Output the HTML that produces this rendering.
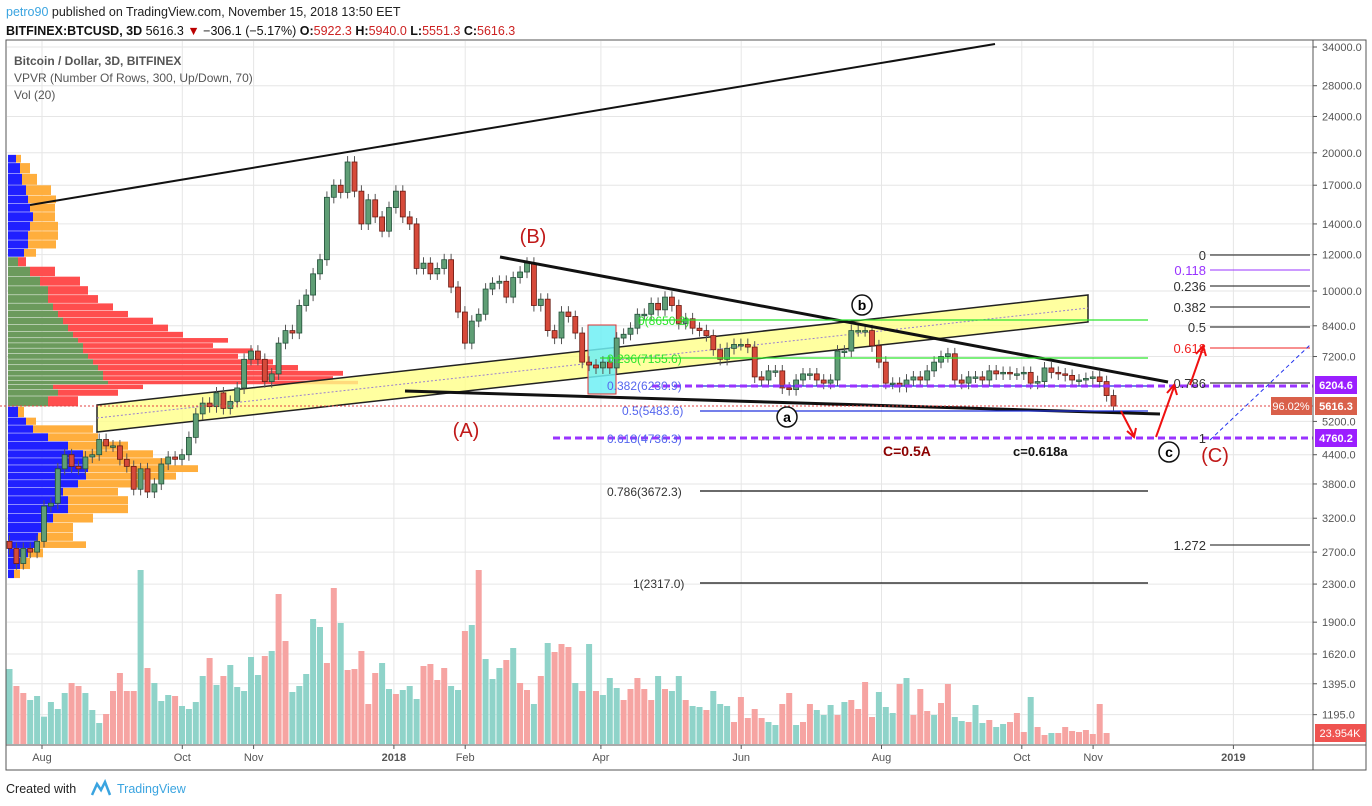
<!DOCTYPE html>
<html><head><meta charset="utf-8"><style>
html,body{margin:0;padding:0;background:#fff;}
svg{display:block;font-family:"Liberation Sans",sans-serif;}
</style></head><body>
<svg id="c" width="1372" height="806" viewBox="0 0 1372 806" xmlns="http://www.w3.org/2000/svg">
<text x="6" y="16" font-size="12.5" fill="#222"><tspan fill="#3aa4e0">petro90</tspan> published on TradingView.com, November 15, 2018 13:50 EET</text>
<text x="6" y="35" font-size="12.5" fill="#111"><tspan font-weight="bold">BITFINEX:BTCUSD, 3D</tspan> 5616.3 <tspan fill="#b00">▼</tspan> −306.1 (−5.17%) <tspan font-weight="bold">O:</tspan><tspan fill="#c22">5922.3</tspan> <tspan font-weight="bold">H:</tspan><tspan fill="#c22">5940.0</tspan> <tspan font-weight="bold">L:</tspan><tspan fill="#c22">5551.3</tspan> <tspan font-weight="bold">C:</tspan><tspan fill="#c22">5616.3</tspan></text>
<g id="grid"></g>
<g id="vpvr"></g>
<g id="vol"></g>
<g id="draw">
  <polygon points="97,405 1088,295 1088,322 97,432" fill="#ffff88" fill-opacity="0.8" stroke="#222" stroke-width="1.5"/>
  <line x1="97" y1="418" x2="1088" y2="308" stroke="#9a7fd0" stroke-width="1" stroke-dasharray="2,2"/>
  <line x1="30" y1="205" x2="995" y2="44" stroke="#111" stroke-width="2"/>
  <rect x="588" y="325" width="28" height="69" fill="#6ff0f5" fill-opacity="0.85" stroke="#d33" stroke-width="1"/>
</g>
<g id="candles"></g>
<g id="draw2">
  <line x1="500" y1="257" x2="1168" y2="382" stroke="#111" stroke-width="3"/>
  <line x1="405" y1="391" x2="1160" y2="414" stroke="#111" stroke-width="3"/>
  <line x1="640" y1="320" x2="1148" y2="320" stroke="#2de52d" stroke-width="1.2"/>
  <line x1="600" y1="358" x2="1148" y2="358" stroke="#2de52d" stroke-width="1.2"/>
  <line x1="700" y1="386" x2="1148" y2="386" stroke="#2233dd" stroke-width="1.2"/>
  <line x1="652" y1="386" x2="1313" y2="386" stroke="#9933ff" stroke-width="3" stroke-dasharray="7,4"/>
  <line x1="700" y1="411" x2="1148" y2="411" stroke="#2233dd" stroke-width="1.2"/>
  <line x1="553" y1="438" x2="1313" y2="438" stroke="#9933ff" stroke-width="3" stroke-dasharray="7,4"/>
  <line x1="700" y1="491" x2="1148" y2="491" stroke="#111" stroke-width="1.2"/>
  <line x1="700" y1="583" x2="1148" y2="583" stroke="#111" stroke-width="1.2"/>
  <line x1="0" y1="406" x2="1313" y2="406" stroke="#e04040" stroke-width="1" stroke-dasharray="2,2"/>
  <g font-size="12">
    <text x="638" y="325" fill="#2de52d">0(8650.2)</text>
    <text x="607" y="363" fill="#2de52d">0.236(7155.6)</text>
    <text x="607" y="390" fill="#5566ee">0.382(6230.9)</text>
    <text x="622" y="415" fill="#5566ee">0.5(5483.6)</text>
    <text x="607" y="443" fill="#5566ee">0.618(4736.3)</text>
    <text x="607" y="496" fill="#333">0.786(3672.3)</text>
    <text x="633" y="588" fill="#333">1(2317.0)</text>
  </g>
  <g font-size="13" text-anchor="end">
    <line x1="1210" y1="255" x2="1310" y2="255" stroke="#111"/><text x="1206" y="260" fill="#333">0</text>
    <line x1="1210" y1="270" x2="1310" y2="270" stroke="#9933ff"/><text x="1206" y="275" fill="#9933ff">0.118</text>
    <line x1="1210" y1="286" x2="1310" y2="286" stroke="#111"/><text x="1206" y="291" fill="#333">0.236</text>
    <line x1="1210" y1="307" x2="1310" y2="307" stroke="#111"/><text x="1206" y="312" fill="#333">0.382</text>
    <line x1="1210" y1="327" x2="1310" y2="327" stroke="#111"/><text x="1206" y="332" fill="#333">0.5</text>
    <line x1="1210" y1="348" x2="1310" y2="348" stroke="#f02020"/><text x="1206" y="353" fill="#f02020">0.618</text>
    <line x1="1210" y1="383" x2="1310" y2="383" stroke="#111"/><text x="1206" y="388" fill="#333">0.786</text>
    <text x="1206" y="443" fill="#333">1</text>
    <line x1="1210" y1="545" x2="1310" y2="545" stroke="#111"/><text x="1206" y="550" fill="#333">1.272</text>
  </g>
  <line x1="1210" y1="440" x2="1310" y2="345" stroke="#2233ee" stroke-width="1" stroke-dasharray="4,3"/>
  <g stroke="#f01010" stroke-width="2" fill="none">
    <path d="M1121,411 L1134,436 M1127,431 L1134,437 L1136,428"/>
    <path d="M1156,437 L1174,387 M1167,393 L1174,385 L1177,395"/>
    <path d="M1190,385 L1203,348 M1196,354 L1203,346 L1206,356"/>
  </g>
  <text x="533" y="243" font-size="20" fill="#c01818" text-anchor="middle">(B)</text>
  <text x="466" y="437" font-size="20" fill="#c01818" text-anchor="middle">(A)</text>
  <text x="1215" y="462" font-size="20" fill="#c01818" text-anchor="middle">(C)</text>
  <g><circle cx="862" cy="305" r="10" fill="#fff" stroke="#111" stroke-width="1.5"/><text x="862" y="310" font-size="14" font-weight="bold" text-anchor="middle">b</text></g>
  <g><circle cx="787" cy="417" r="10" fill="#fff" stroke="#111" stroke-width="1.5"/><text x="787" y="422" font-size="14" font-weight="bold" text-anchor="middle">a</text></g>
  <g><circle cx="1169" cy="452" r="10" fill="#fff" stroke="#111" stroke-width="1.5"/><text x="1169" y="457" font-size="14" font-weight="bold" text-anchor="middle">c</text></g>
  <text x="883" y="456" font-size="14" font-weight="bold" fill="#8b0000">C=0.5A</text>
  <text x="1013" y="456" font-size="13" font-weight="bold" fill="#111">c=0.618a</text>
</g>
<g font-size="12" fill="#555">
  <text x="14" y="65" font-weight="bold">Bitcoin / Dollar, 3D, BITFINEX</text>
  <text x="14" y="82">VPVR (Number Of Rows, 300, Up/Down, 70)</text>
  <text x="14" y="99">Vol (20)</text>
</g>
<g id="axes"></g>
<g font-size="11" font-weight="bold" fill="#fff">
  <rect x="1315" y="376" width="42" height="18" fill="#9b1fff"/><text x="1336" y="389" text-anchor="middle">6204.6</text>
  <rect x="1271" y="397" width="41" height="18" fill="#d9604a"/><text x="1291" y="410" text-anchor="middle" font-weight="normal">96.02%</text>
  <rect x="1315" y="397" width="42" height="18" fill="#d9604a"/><text x="1336" y="410" text-anchor="middle">5616.3</text>
  <rect x="1315" y="429" width="42" height="18" fill="#9b1fff"/><text x="1336" y="442" text-anchor="middle">4760.2</text>
  <rect x="1315" y="724" width="51" height="18" fill="#ef5350"/><text x="1340" y="737" text-anchor="middle" font-weight="normal">23.954K</text>
</g>
<text x="6" y="793" font-size="12.5" fill="#222">Created with</text>
<path d="M92,795 L97,784 L101,790 L105,782 L110,795" fill="none" stroke="#3aa4e0" stroke-width="2.5"/>
<text x="117" y="793" font-size="12.5" fill="#3aa4e0">TradingView</text>
</svg>
<script>
const closes=[2750,2550,2750,2700,2850,3400,3450,4100,4400,4150,4100,4350,4400,4750,4600,4600,4300,4150,3700,4100,3650,3800,4200,4350,4300,4400,4800,5400,5700,5600,6000,5550,5750,6150,7100,7400,7100,6350,6600,7700,8200,8100,9300,9800,10900,11700,16000,17000,16400,19100,16500,14000,15800,14500,13500,15200,16500,14500,14000,11200,11500,10900,11200,11700,10200,9000,7700,8600,8900,10100,10400,10500,9700,10700,11000,11500,9300,9600,8200,7900,9000,8800,8100,7000,6900,6800,7000,6800,7900,8050,8300,8900,8900,9400,9100,9700,9300,8500,8700,8300,8200,8000,7450,7100,7500,7650,7650,7550,6500,6400,6700,6700,6150,6100,6400,6600,6600,6400,6300,6400,7400,7400,8200,8200,8200,7600,7000,6300,6300,6200,6400,6500,6400,6700,7000,7200,7300,6400,6300,6500,6500,6400,6700,6600,6650,6600,6600,6650,6300,6350,6800,6650,6600,6550,6400,6400,6450,6500,6350,5920,5616];
const firstOpen=2850;
const volumes=[225,174,153,132,144,82,126,105,153,183,174,153,102,63,90,159,213,159,159,522,228,183,129,147,144,114,105,126,204,258,177,204,237,171,159,261,207,264,279,450,309,156,174,210,375,351,243,468,363,222,225,279,120,213,243,165,150,162,174,135,234,240,192,228,174,162,339,357,522,255,195,228,252,288,183,162,120,204,303,276,300,291,183,159,300,159,147,198,168,132,165,198,165,132,204,165,159,204,132,114,111,102,159,120,114,66,141,78,105,78,66,57,120,153,57,66,120,102,87,117,87,126,132,105,186,81,156,111,93,180,198,87,165,99,87,123,180,81,69,66,117,63,72,51,60,66,93,36,141,51,27,33,33,51,39,36,42,30,120,33];
const volDir="grrggggggrrgggrrrrrgrgggrggggrgrgggggrgrrgggggrrgrrrrrggrgggrrrrggrgrgggrgrrgrgrrrgrgrgggrrrrrgrggrggrgggrrrrrggrrgrrgggrgrrrrgggrgrrrgrrggrggrggrrrgrrgrrrrrrrr";
const priceTicks=[34000,28000,24000,20000,17000,14000,12000,10000,8400,7200,5200,4400,3800,3200,2700,2300,1900,1620,1395,1195];
const timeLabels=["Aug","Oct","Nov","2018","Feb","Apr","Jun","Aug","Oct","Nov","2019"];
const timeDays=[0,61,92,153,184,243,304,365,426,457,518];
const vpPrices=[19500,18500,17500,16500,15800,15200,14500,13800,13200,12600,12100,11600,11000,10500,10000,9600,9200,8900,8600,8300,8000,7800,7600,7400,7200,7000,6800,6600,6450,6300,6200,6000,5800,5400,5200,5000,4800,4600,4400,4250,4100,3950,3800,3650,3500,3350,3200,3050,2900,2800,2700,2550,2400];
const vpUp=[8,12,14,18,20,22,25,22,20,20,16,10,22,32,40,40,45,50,55,60,65,70,75,75,80,85,90,95,95,100,45,50,40,10,18,25,40,60,75,80,80,78,70,55,60,60,45,35,30,28,20,12,6];
const vpDown=[5,10,15,25,28,25,22,28,30,28,12,8,25,40,40,50,60,70,90,100,110,150,130,170,150,180,200,240,230,250,90,60,30,6,10,60,50,60,70,80,110,90,60,55,60,60,40,30,35,50,15,10,6];

const NS="http://www.w3.org/2000/svg";
function yP(p){return 47+199.4*Math.log(34000/p);}
function xI(i){return 9.5+i*6.9;}
function xDay(d){return 42+d*2.3;}
function mk(tag,attrs,parent){const e=document.createElementNS(NS,tag);for(const k in attrs)e.setAttribute(k,attrs[k]);parent.appendChild(e);return e;}
const grid=document.getElementById('grid'),axes=document.getElementById('axes');
mk('rect',{x:6,y:40,width:1360,height:730,fill:'none',stroke:'#555','stroke-width':1},grid);
priceTicks.forEach(p=>{const l=mk('line',{x1:7,x2:1313,y1:yP(p),y2:yP(p),stroke:'#e6e6e6'},grid);


const t=mk('text',{x:1322,y:yP(p)+4,'font-size':11,fill:'#555'},axes);t.textContent=p.toFixed(1);


mk('line',{x1:1313,x2:1317,y1:yP(p),y2:yP(p),stroke:'#555'},axes);});
timeDays.forEach((d,k)=>{const x=xDay(d);const l=mk('line',{x1:x,x2:x,y1:41,y2:744,stroke:'#e6e6e6'},grid);


const t=mk('text',{x:x,y:761,'font-size':11,fill:'#555','text-anchor':'middle','font-weight':(timeLabels[k].length==4?'bold':'normal')},axes);t.textContent=timeLabels[k];


mk('line',{x1:x,x2:x,y1:745,y2:749,stroke:'#555'},axes);});
mk('line',{x1:1313,x2:1313,y1:40,y2:770,stroke:'#555'},axes);
mk('line',{x1:6,x2:1366,y1:745,y2:745,stroke:'#555'},axes);
const vp=document.getElementById('vpvr');
vpPrices.forEach((p,i)=>{const y=yP(p);const prev=i>0?yP(vpPrices[i-1]):y-6;const nxt=i<vpPrices.length-1?yP(vpPrices[i+1]):y+6;
const top=(y+prev)/2,bot=(y+nxt)/2;const inVA=(p<=11800&&p>=5700);
const r1=mk('rect',{x:8,y:top,width:vpUp[i],height:Math.max(1,bot-top-0.5),fill:inVA?'#6b9a5c':'#2020ff'},vp);


const r2=mk('rect',{x:8+vpUp[i],y:top,width:vpDown[i],height:Math.max(1,bot-top-0.5),fill:inVA?'#ff4444':'#ffaa33','fill-opacity':0.95},vp);

});
const vg=document.getElementById('vol');
volumes.forEach((v,i)=>{const h=v/3;const r=mk('rect',{x:xI(i)-3,y:744-h,width:6,height:h,fill:volDir[i]=='g'?'#8fd3c9':'#f6a4a2'},vg);

});
const cg=document.getElementById('candles');
closes.forEach((c,i)=>{const o=i==0?firstOpen:closes[i-1];const up=c>=o;const x=xI(i);
const hi=Math.max(o,c)*1.03,lo=Math.min(o,c)*0.97;
const w=mk('line',{x1:x,x2:x,y1:yP(hi),y2:yP(lo),stroke:'#555','stroke-width':1},cg);


const yt=yP(Math.max(o,c)),yb=yP(Math.min(o,c));
const b=mk('rect',{x:x-2.5,y:yt,width:5,height:Math.max(1.5,yb-yt),fill:up?'#5f9e75':'#d64a3a',stroke:up?'#23503a':'#6a1a12','stroke-width':0.8},cg);

});
</script>
</body></html>
